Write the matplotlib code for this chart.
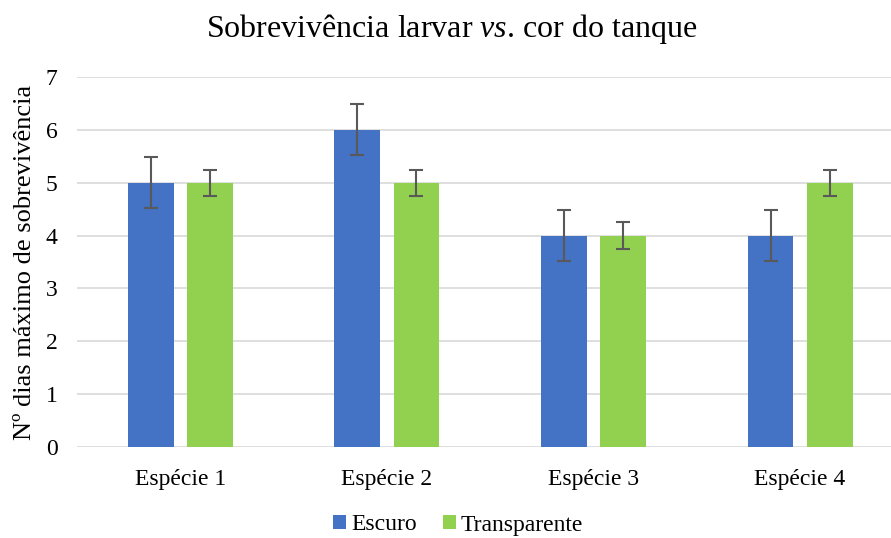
import numpy as np
import matplotlib
matplotlib.use("Agg")
import matplotlib.pyplot as plt

plt.rcParams['font.family'] = ['Liberation Serif', 'DejaVu Serif']
plt.rcParams['mathtext.fontset'] = 'custom'
plt.rcParams['mathtext.rm'] = 'Liberation Serif'
plt.rcParams['mathtext.it'] = 'Liberation Serif:italic'

especies = ["Espécie 1", "Espécie 2", "Espécie 3", "Espécie 4"]
escuro = [5, 6, 4, 4]
escuro_err = [0.48, 0.48, 0.48, 0.48]
transparente = [5, 5, 4, 5]
transparente_err = [0.25, 0.25, 0.25, 0.25]

x = np.arange(len(especies))
w = 0.222
off = 0.143

fig = plt.figure(figsize=(8.91, 5.38), dpi=100)
ax = fig.add_axes([77/891, 1-447/538, 1-77/891, (447-77)/538])

errkw = dict(ecolor="#595959", elinewidth=1.5, capsize=5, capthick=1.5)
ax.bar(x - off, escuro, w, color="#4472C4", yerr=escuro_err, error_kw=errkw, label="Escuro", zorder=2)
ax.bar(x + off, transparente, w, color="#92D050", yerr=transparente_err, error_kw=errkw, label="Transparente", zorder=2)

ax.set_xlim(-0.5, 3.44)
ax.set_ylim(0, 7)
ax.set_yticks(range(0, 8))
ax.set_xticks(x)
ax.set_xticklabels(especies)
ax.tick_params(axis='both', length=0, labelsize=17, colors="#000000")
ax.tick_params(axis='y', pad=14)
ax.tick_params(axis='x', pad=16)
ax.yaxis.grid(True, color="#D9D9D9", linewidth=1.2, zorder=0)
ax.set_axisbelow(True)
for s in ax.spines.values():
    s.set_visible(False)

ax.set_ylabel("Nº dias máximo de sobrevivência", fontsize=19)
ax.yaxis.set_label_coords(-(77-36)/814, 0.5)
fig.text(452/891, 1-29/538, r"Sobrevivência larvar $\it{vs}$. cor do tanque", ha="center", va="center", fontsize=23)

fig.legend(loc="center", bbox_to_anchor=(458/891, 1-525/538), ncol=2, frameon=False, fontsize=17,
           handlelength=0.55, handleheight=0.55, handletextpad=0.2, columnspacing=1.1)

fig.savefig("out.png", dpi=100)
